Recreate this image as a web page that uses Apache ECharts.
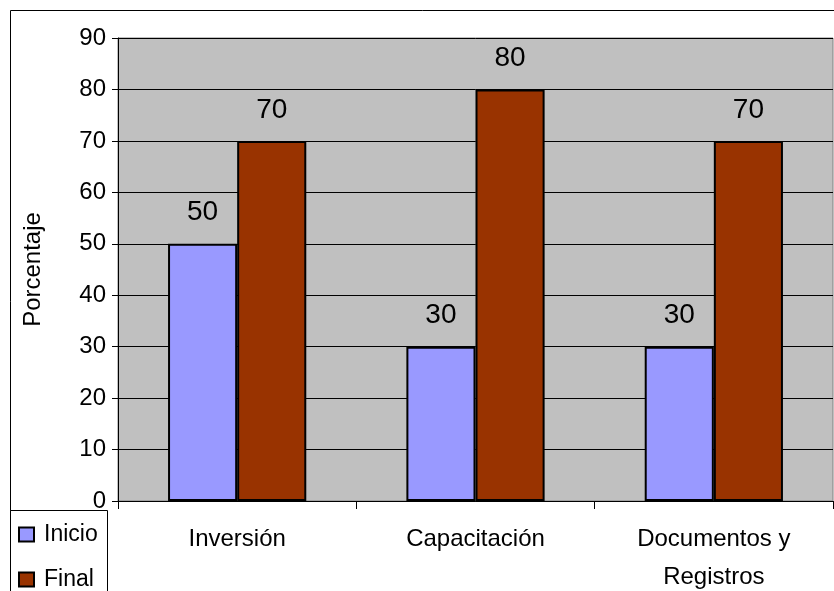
<!DOCTYPE html>
<html><head><meta charset="utf-8">
<script src="https://cdn.jsdelivr.net/npm/echarts@6/dist/echarts.min.js"></script>
<style>html,body{margin:0;padding:0;background:#fff}#c{width:834px;height:591px}</style>
</head><body><div id="c"></div>
<script>
const categories = ['Inversión', 'Capacitación', 'Documentos y\nRegistros'];
const inicio = [50, 30, 30];
const final = [70, 80, 70];
const yTicks = {min: 0, max: 90, interval: 10};

const chart = echarts.init(document.getElementById('c'));
const font = 'Liberation Sans, Arial, sans-serif';
chart.setOption({
  animation: false,
  textStyle: {fontFamily: font},
  graphic: [
    {type: 'rect', shape: {x: 10.5, y: 10.5, width: 900, height: 900}, style: {fill: 'none', stroke: '#000', lineWidth: 1}, z: -1},
    {type: 'rect', shape: {x: 10.5, y: 510.5, width: 97, height: 100}, style: {fill: '#fff', stroke: '#000', lineWidth: 1}, z: 1}
  ],
  grid: {left: 118, top: 38, right: 1, bottom: 90, containLabel: false, outerBoundsMode: 'none',
         show: true, backgroundColor: '#C0C0C0', borderColor: '#808080', borderWidth: 1},
  legend: {
    orient: 'vertical', left: 18, top: 523, padding: 0, height: 120, itemGap: 22, itemWidth: 15, itemHeight: 14,
    icon: 'rect', textStyle: {fontSize: 23, color: '#000', fontFamily: font, padding: [0, 0, 0, 5]}, z: 5
  },
  xAxis: {
    type: 'category', data: categories,
    axisLine: {lineStyle: {color: '#000', width: 1}},
    axisTick: {show: true, length: 8, lineStyle: {color: '#000'}},
    axisLabel: {fontSize: 24, color: '#000', margin: 19, lineHeight: 38, fontFamily: font}
  },
  yAxis: {
    type: 'value', min: yTicks.min, max: yTicks.max, interval: yTicks.interval,
    name: 'Porcentaje', nameLocation: 'middle', nameGap: 73, nameRotate: 90,
    nameTextStyle: {fontSize: 24, color: '#000', fontFamily: font},
    axisLine: {show: true, lineStyle: {color: '#000', width: 1}},
    axisTick: {show: true, length: 6, lineStyle: {color: '#000'}},
    axisLabel: {fontSize: 24, color: '#000', margin: 12, fontFamily: font},
    splitLine: {lineStyle: {color: '#000', width: 1}}
  },
  series: [
    {name: 'Inicio', type: 'bar', data: inicio, barWidth: '29%', barGap: '0%',
     itemStyle: {color: '#9999FF', borderColor: '#000', borderWidth: 2},
     label: {show: true, position: 'top', distance: 17, fontSize: 28, color: '#000', fontFamily: font}},
    {name: 'Final', type: 'bar', data: final, barWidth: '29%', barGap: '0%',
     itemStyle: {color: '#993300', borderColor: '#000', borderWidth: 2},
     label: {show: true, position: 'top', distance: 17, fontSize: 28, color: '#000', fontFamily: font}}
  ]
});
</script></body></html>
